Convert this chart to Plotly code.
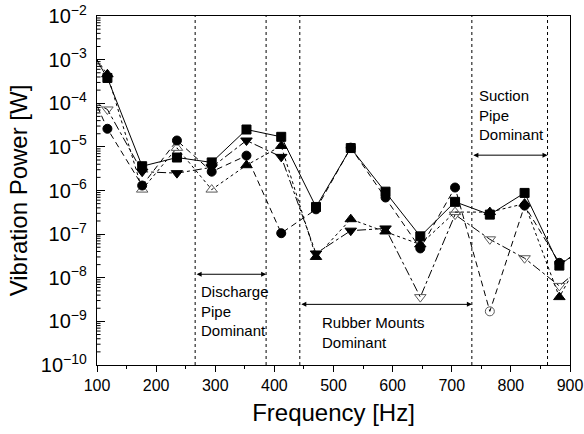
import plotly.graph_objects as go

# Frequencies (Hz); first and last points lie outside the visible range (lines clip at edges)
freq = [58.8, 117.6, 176.4, 235.2, 294.0, 352.8, 411.6, 470.4, 529.2, 588.0,
        646.8, 705.6, 764.4, 823.2, 882.0, 940.8]

# Vibration power [W]; negative values are drawn with open (hollow) symbols
power_square = [8e-3, 3.8e-4, 3.6e-6, 5.7e-6, 4.4e-6, 2.5e-5, 1.7e-5, 4.2e-7, 9.4e-6, 9.4e-7,
                8.9e-8, 5.5e-7, 2.8e-7, 8.8e-7, 1.9e-8, 8e-8]
power_circle = [1.5e-3, 2.6e-5, 1.3e-6, 1.4e-5, 2.7e-6, 6.3e-6, 1.05e-7, 3.7e-7, 9.6e-6, 6.9e-7,
                4.7e-8, 1.17e-6, -1.7e-9, 4.5e-7, 2.2e-8, 5e-8]
power_triup = [6e-3, 4.6e-4, -1.05e-6, -9.5e-6, -1.05e-6, 3.8e-6, 1.05e-5, 3.0e-8, 2.2e-7, 1.15e-7,
               5.8e-8, -3.2e-7, 3.2e-7, 5.0e-7, 3.6e-9, 1e-7]
power_tridown = [2e-4, -7.2e-5, 2.7e-6, 2.5e-6, 3.4e-6, 1.4e-5, 5.9e-6, 3.6e-8, 1.2e-7, 1.35e-7,
                 -3.6e-9, -2.8e-7, -7.6e-8, -2.8e-8, -6.5e-9, -3e-8]

x_ticks = [100, 200, 300, 400, 500, 600, 700, 800, 900]
y_decades = [-10, -9, -8, -7, -6, -5, -4, -3]

# Region boundaries (Hz)
boundaries = [266, 386, 443, 734, 862]

FONT = "Liberation Sans, Arial, sans-serif"
OPEN_COLOR = "#5a5a5a"
X_MIN, X_MAX = 100, 900

series = [
    (power_tridown, "triangle-down", "dashdot", 10),
    (power_triup, "triangle-up", "dot", 10),
    (power_circle, "circle", "6px,4px", 9),
    (power_square, "square", "solid", 9),
]

fig = go.Figure()

# minor log ticks on the left axis, drawn inside the plot as short line segments
minor_y = [m * 10.0 ** d for d in y_decades for m in range(2, 10)]
tick_x, tick_y = [], []
for v in minor_y:
    tick_x += [X_MIN, X_MIN + 6, None]
    tick_y += [v, v, None]
fig.add_trace(go.Scatter(x=tick_x, y=tick_y, mode="lines", line=dict(color="black", width=1),
                         showlegend=False, hoverinfo="skip"))

for vals, sym, dash, size in series:
    y = [abs(v) for v in vals]
    symbols = [sym if v > 0 else sym + "-open" for v in vals]
    colors = ["black" if v > 0 else OPEN_COLOR for v in vals]
    fig.add_trace(go.Scatter(
        x=freq, y=y, mode="lines+markers",
        line=dict(color="black", width=1, dash=dash),
        marker=dict(symbol=symbols, size=size, color=colors,
                    line=dict(color=colors, width=1)),
        showlegend=False,
    ))

for b in boundaries:
    fig.add_shape(type="line", xref="x", yref="paper", x0=b, x1=b, y0=0, y1=1,
                  line=dict(color="black", width=1, dash="dot"))

# Double-headed region arrows: (x_start, x_end, log10 y)
arrows = [(boundaries[0], boundaries[1], -7.92),
          (boundaries[2], boundaries[3], -8.61),
          (boundaries[3], boundaries[4], -5.19)]
for x0, x1, ly in arrows:
    fig.add_annotation(x=x1, y=ly, ax=x0, ay=ly, xref="x", yref="y", axref="x", ayref="y",
                       text="", showarrow=True, arrowhead=2, arrowside="end+start",
                       arrowsize=1, arrowwidth=1, arrowcolor="black", standoff=0, startstandoff=0)

labels = [
    ("Discharge<br>Pipe<br>Dominant", 273, -8.07),
    ("Rubber Mounts<br>Dominant", 478, -8.78),
    ("Suction<br>Pipe<br>Dominant", 742, -3.58),
]
for txt, x, ly in labels:
    fig.add_annotation(x=x, y=ly, xref="x", yref="y", text=txt, showarrow=False,
                       xanchor="left", yanchor="top", align="left",
                       font=dict(family=FONT, size=15, color="black"))

fig.update_layout(
    width=584, height=434,
    margin=dict(l=97, r=14, t=16, b=69),
    plot_bgcolor="white", paper_bgcolor="white",
    font=dict(family=FONT, color="black"),
)
fig.update_xaxes(
    range=[X_MIN, X_MAX], tickvals=x_ticks, ticks="outside", ticklen=6, tickwidth=1,
    tickcolor="black", showline=True, linecolor="black", linewidth=1, mirror=True,
    showgrid=False, zeroline=False, tickfont=dict(size=16, family=FONT), automargin=False,
    minor=dict(ticks="outside", ticklen=3, dtick=50, tickcolor="black", showgrid=False),
    title=dict(text="Frequency [Hz]", font=dict(size=24, family=FONT), standoff=10),
)
fig.update_yaxes(
    type="log", range=[-10, -2], dtick=1, exponentformat="power", ticks="inside",
    ticklen=8, tickwidth=1, tickcolor="black", showline=True, linecolor="black",
    linewidth=1, mirror=True, showgrid=False, zeroline=False, automargin=False,
    tickfont=dict(size=16, family=FONT), ticklabelstandoff=6,
    title=dict(text="Vibration Power [W]", font=dict(size=24, family=FONT), standoff=6),
)

fig.write_html("out.html")
